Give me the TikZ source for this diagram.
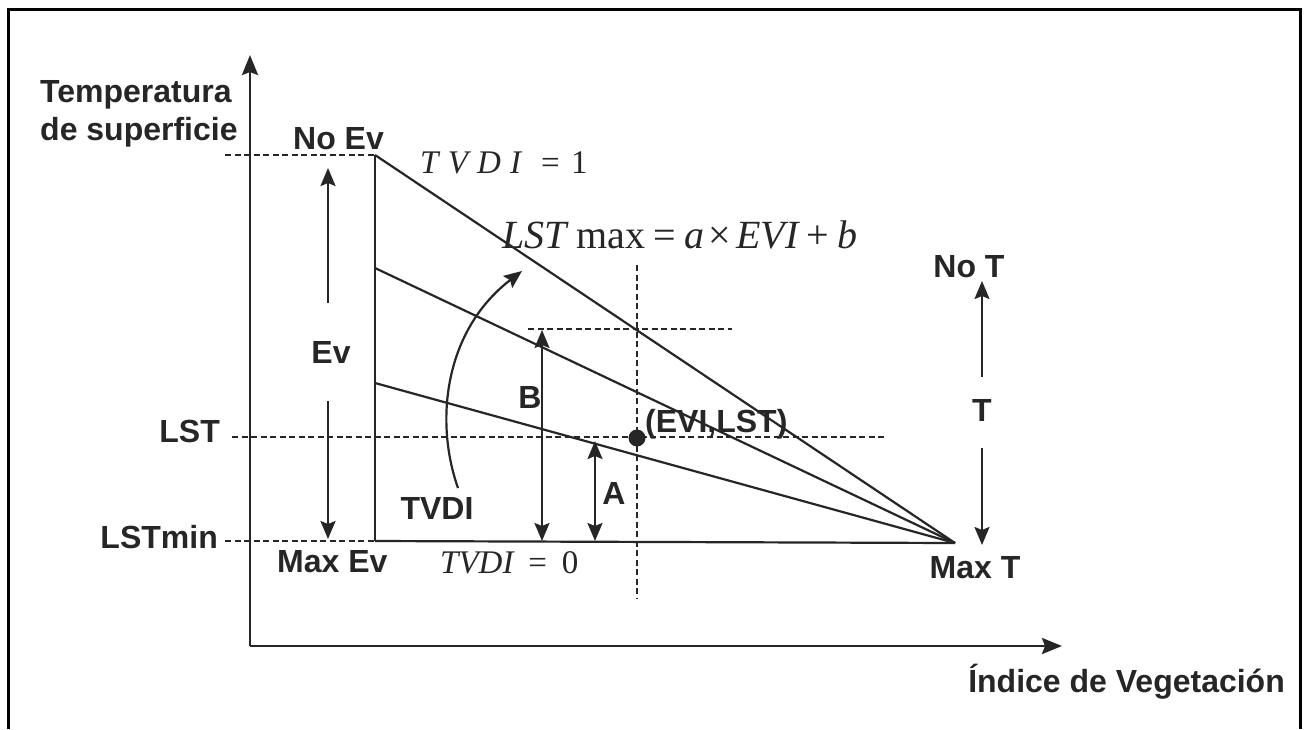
\documentclass[tikz,border=0pt]{standalone}
\usepackage{fontspec}
\setmainfont{Liberation Sans}
\newfontfamily\tms{Liberation Serif}
\usetikzlibrary{arrows.meta}
\tikzset{
  lbl/.style={font=\fontsize{32}{36}\selectfont\bfseries, text=black!85, inner sep=0pt},
  eqn/.style={font=\tms\fontsize{33}{38}\selectfont, text=black!85, inner sep=0pt},
  bigeqn/.style={font=\tms\fontsize{40}{46}\selectfont, text=black!85, inner sep=0pt},
  thin line/.style={line width=2.2pt, draw=black!85},
  axis/.style={line width=2.8pt, draw=black!85, -{Stealth[length=20pt,width=16pt,inset=3pt]}},
  arr/.style={line width=2.2pt, draw=black!85, -{Stealth[length=18pt,width=15pt,inset=3pt]}},
  darr/.style={line width=2.2pt, draw=black!85, {Stealth[length=18pt,width=15pt,inset=3pt]}-{Stealth[length=18pt,width=15pt,inset=3pt]}},
  dash line/.style={line width=2.2pt, draw=black!85, dash pattern=on 6pt off 3.5pt},
}
\begin{document}
\begin{tikzpicture}[x=1pt,y=-1pt]
\useasboundingbox (0,0) rectangle (1307,729);
\fill[white] (0,0) rectangle (1307,729);
% frame
\draw[line width=3pt, draw=black] (8,729) -- (8,9) -- (1300,9) -- (1300,729);

% key points
\coordinate (O) at (250,646);
\coordinate (Ytop) at (250,55);
\coordinate (Xend) at (1062,646);
\coordinate (NoEv) at (375,155);
\coordinate (MidA) at (375,268);
\coordinate (MidB) at (375,383);
\coordinate (MaxEv) at (375,541);
\coordinate (MaxT) at (955,543);

% axes
\draw[axis] (O) -- (Ytop);
\draw[axis] (O) -- (Xend);

% dashed guides
\coordinate (d1) at (225,155);
\coordinate (d2) at (232,437);
\coordinate (d3) at (885,437);
\coordinate (d4) at (225,541);
\coordinate (d5) at (528,329);
\coordinate (d6) at (732,329);
\coordinate (d7) at (637,265);
\coordinate (d8) at (637,598);
\draw[dash line] (d1) -- (NoEv);
\draw[dash line] (d2) -- (d3);
\draw[dash line] (d4) -- (MaxEv);
\draw[dash line] (d5) -- (d6);
\draw[dash line] (d7) -- (d8);

% triangle lines
\draw[thin line, line width=2.6pt] (NoEv) -- (MaxEv);
\draw[thin line] (NoEv) -- (MaxT);
\draw[thin line] (MidA) -- (MaxT);
\draw[thin line] (MidB) -- (MaxT);
\draw[thin line] (MaxEv) -- (MaxT);

% Ev arrows
\coordinate (ev1) at (328,303);
\coordinate (ev2) at (328,168);
\coordinate (ev3) at (328,401);
\coordinate (ev4) at (328,539);
\draw[arr] (ev1) -- (ev2);
\draw[arr] (ev3) -- (ev4);
\node[lbl] (Ev) at (331,352) {Ev};

% TVDI curved arrow
\node[lbl] (tvdi) at (437,508) {TVDI};
\coordinate (c1) at (458,488);
\coordinate (c2) at (522,271);
\draw[arr] (c1) .. controls (434,420) and (445,330) .. (c2);

% B and A
\coordinate (b1) at (542,330);
\coordinate (b2) at (542,541);
\draw[darr] (b1) -- (b2);
\node[lbl] (B) at (530,397) {B};
\coordinate (a1) at (595,441);
\coordinate (a2) at (595,541);
\draw[darr] (a1) -- (a2);
\node[lbl] (A) at (614,493) {A};

% point
\fill[black!85] (637,438) circle (8.5pt);
\node[lbl, anchor=base west] (pt) at (645,432) {(EVI,LST)};

% T arrows
\coordinate (t1) at (982,377);
\coordinate (t2) at (982,281);
\coordinate (t3) at (982,448);
\coordinate (t4) at (982,545);
\draw[arr] (t1) -- (t2);
\draw[arr] (t3) -- (t4);
\node[lbl] (T) at (982,410) {T};
\node[lbl, anchor=base] (NoT) at (969,277) {No T};
\node[lbl, anchor=base] (MaxTl) at (975,578) {Max T};

% left labels
\node[lbl, anchor=base west] (temp1) at (40,102) {Temperatura};
\node[lbl, anchor=base west] (temp2) at (40,140) {de superficie};
\node[lbl, anchor=base west] (noev) at (293,149) {No Ev};
\node[lbl, anchor=base east] (lst) at (220,442) {LST};
\node[lbl, anchor=base east] (lstmin) at (218,548) {LSTmin};
\node[lbl, anchor=base west] (maxev) at (277,572) {Max Ev};
\node[lbl, anchor=base east] (indice) at (1285,692) {Índice de Vegetación};

% equations
\node[eqn, anchor=base west] (eq1) at (420,173) {\itshape T\hspace{0.28em}V\hspace{0.28em}D\hspace{0.28em}I\hspace{0.6em}\upshape=\hspace{0.35em}1};
\node[bigeqn, anchor=base west] (eq2) at (502,248) {\itshape LST\upshape\ max\hspace{0.2em}=\hspace{0.2em}\itshape a\upshape\hspace{0.12em}×\hspace{0.12em}\itshape EVI\upshape\hspace{0.2em}+\hspace{0.2em}\itshape b};
\node[eqn, anchor=base west] (eq3) at (440,573) {\itshape TVDI\upshape\hspace{0.45em}=\hspace{0.45em}0};
\end{tikzpicture}
\end{document}
